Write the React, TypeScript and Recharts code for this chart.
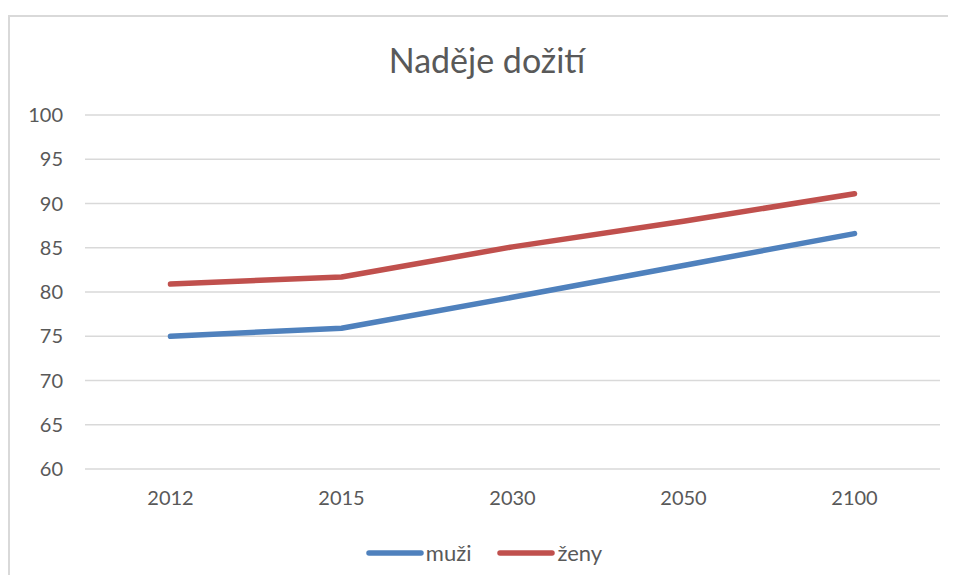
import { LineChart, Line, XAxis, YAxis, CartesianGrid } from 'recharts';

const YEARS = ['2012', '2015', '2030', '2050', '2100'];
const MUZI = [75.0, 75.9, 79.4, 83.0, 86.6];
const ZENY = [80.9, 81.7, 85.1, 88.0, 91.1];
const Y_TICKS = [60, 65, 70, 75, 80, 85, 90, 95, 100];

const SERIES = [
  { key: 'muzi', name: 'muži', color: '#4F81BD' },
  { key: 'zeny', name: 'ženy', color: '#C0504D' },
];

const data = YEARS.map((year, i) => ({ year, muzi: MUZI[i], zeny: ZENY[i] }));

const FONT = 'Lato, "Open Sans", sans-serif';
const TEXT = '#595959';

function LegendBox() {
  return (
    <div style={{ display: 'flex', justifyContent: 'center', gap: 26, fontFamily: FONT, fontSize: 22, color: TEXT, paddingLeft: 20 }}>
      {SERIES.map((s) => (
        <div key={s.key} style={{ display: 'flex', alignItems: 'center' }}>
          <svg width={58} height={8}>
            <line x1={3} y1={4} x2={55} y2={4} stroke={s.color} strokeWidth={5.5} strokeLinecap="round" />
          </svg>
          <span style={{ marginLeft: 2 }}>{s.name}</span>
        </div>
      ))}
    </div>
  );
}

export default function App() {
  return (
    <div style={{ position: 'relative', width: 948, height: 567, overflow: 'hidden' }}>
      <style>{'html, body { overflow: hidden; }'}</style>
      {/* frame: only the left and top edges are visible in the source */}
      <div style={{ position: 'absolute', left: 0, top: 7, width: 948, height: 2, background: '#d9d9d9' }} />
      <div style={{ position: 'absolute', left: 0, top: 7, width: 2, height: 560, background: '#d9d9d9' }} />
      <div
        style={{
          position: 'absolute',
          left: 0,
          top: 31,
          width: 948,
          paddingLeft: 10,
          boxSizing: 'border-box',
          textAlign: 'center',
          fontFamily: FONT,
          fontSize: 34,
          color: TEXT,
        }}
      >
        Naděje dožití
      </div>
      <div style={{ position: 'absolute', left: 0, top: 0 }}>
        <LineChart
          width={932}
          height={523}
          data={data}
          margin={{ top: 107, right: 0, bottom: 0, left: 0 }}
          accessibilityLayer={false}
        >
          <CartesianGrid vertical={false} stroke="#d9d9d9" strokeWidth={1.5} />
          <XAxis
            dataKey="year"
            axisLine={false}
            tickLine={false}
            tickMargin={16}
            height={62}
            padding={{ left: 85.5, right: 85.5 }}
            tick={{ fill: TEXT, fontSize: 20, fontFamily: FONT }}
          />
          <YAxis
            domain={[60, 100]}
            ticks={Y_TICKS}
            axisLine={false}
            tickLine={false}
            tickSize={0}
            tickMargin={22}
            width={77}
            interval={0}
            tick={{ fill: TEXT, fontSize: 20, fontFamily: FONT }}
          />
          {SERIES.map((s) => (
            <Line
              key={s.key}
              dataKey={s.key}
              name={s.name}
              stroke={s.color}
              strokeWidth={5.5}
              strokeLinecap="round"
              strokeLinejoin="round"
              dot={false}
              isAnimationActive={false}
            />
          ))}
        </LineChart>
      </div>
      <div style={{ position: 'absolute', left: 0, top: 531, width: 932 }}>
        <LegendBox />
      </div>
    </div>
  );
}
